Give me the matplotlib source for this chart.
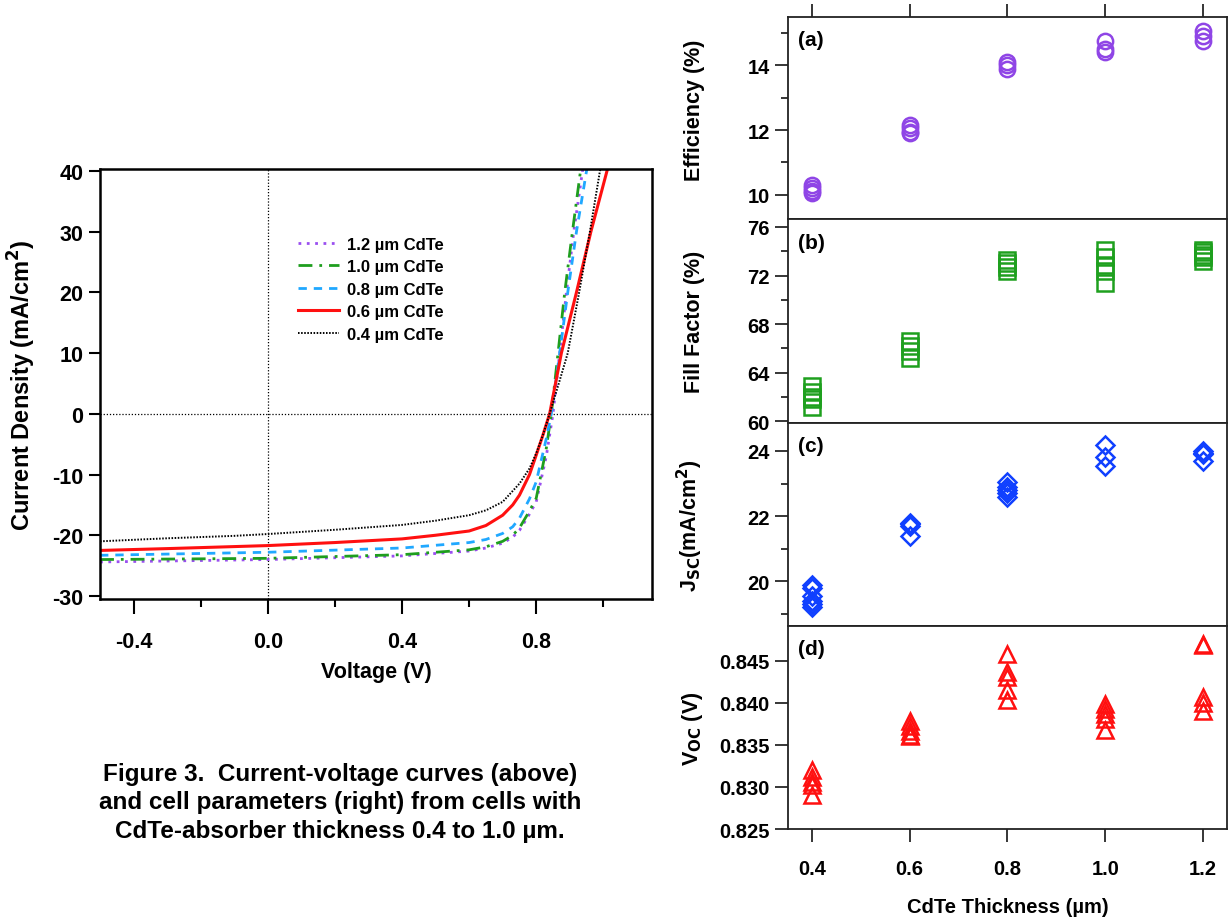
import matplotlib
matplotlib.use("Agg")
import matplotlib.pyplot as plt
from matplotlib.ticker import MultipleLocator, FormatStrFormatter

plt.rcParams['font.family'] = ['Liberation Sans', 'DejaVu Sans']
plt.rcParams['font.weight'] = 'bold'
plt.rcParams['axes.unicode_minus'] = False

# ---- J-V curves (left) ----
v_04 = [-0.5, -0.3, -0.1, 0.0, 0.2, 0.4, 0.5, 0.6, 0.65, 0.7, 0.75, 0.78, 0.8, 0.82, 0.84, 0.87, 0.894, 0.928, 0.96, 0.99, 1.0]
j_04 = [-21.0, -20.5, -20.1, -19.8, -19.1, -18.3, -17.6, -16.7, -15.9, -14.5, -11.5, -9.0, -6.5, -3.5, 0.0, 5.5, 10.0, 20.0, 30.0, 40.0, 43.0]

v_06 = [-0.5, -0.3, 0.0, 0.2, 0.4, 0.5, 0.6, 0.65, 0.7, 0.73, 0.75, 0.78, 0.8, 0.82, 0.84, 0.875, 0.92, 0.963, 1.011, 1.02]
j_06 = [-22.5, -22.2, -21.7, -21.2, -20.6, -20.0, -19.3, -18.4, -16.7, -15.0, -13.4, -10.0, -6.8, -3.5, 0.0, 10.0, 20.0, 30.0, 40.0, 42.0]

v_08 = [-0.5, 0.0, 0.4, 0.6, 0.65, 0.7, 0.73, 0.75, 0.78, 0.8, 0.83, 0.845, 0.87, 0.894, 0.92, 0.95, 0.96]
j_08 = [-23.3, -22.8, -22.1, -21.2, -20.7, -19.7, -18.6, -17.2, -14.0, -11.2, -4.1, 0.0, 10.0, 20.0, 30.0, 40.0, 43.0]

v_10 = [-0.5, 0.0, 0.4, 0.6, 0.65, 0.7, 0.73, 0.75, 0.78, 0.8, 0.83, 0.845, 0.865, 0.885, 0.908, 0.932, 0.94]
j_10 = [-24.0, -23.8, -23.2, -22.4, -21.9, -21.0, -20.0, -18.8, -16.0, -13.9, -5.7, 0.0, 10.0, 20.0, 30.0, 40.0, 43.0]

v_12 = [-0.5, 0.0, 0.4, 0.6, 0.65, 0.7, 0.73, 0.75, 0.78, 0.8, 0.83, 0.85, 0.87, 0.89, 0.912, 0.938, 0.945]
j_12 = [-24.4, -24.0, -23.4, -22.6, -22.1, -21.3, -20.3, -19.2, -16.5, -14.5, -7.0, 0.0, 10.0, 20.0, 30.0, 40.0, 43.0]

# ---- cell parameters (right) ----
thick_eff = [0.4] * 4 + [0.6] * 4 + [0.8] * 3 + [1.0] * 3 + [1.2] * 3
efficiency = [10.3, 10.2, 10.1, 10.05, 12.15, 12.05, 11.95, 11.9, 14.1, 14.0, 13.9, 14.77, 14.5, 14.43, 15.05, 14.9, 14.75]

thick_ff = [0.4] * 5 + [0.6] * 4 + [0.8] * 4 + [1.0] * 5 + [1.2] * 5
fill_factor = [62.9, 62.4, 62.0, 61.8, 61.2, 66.6, 66.2, 65.8, 65.2, 73.3, 73.0, 72.7, 72.4,
               74.1, 73.5, 72.9, 72.4, 71.4, 74.1, 73.9, 73.7, 73.5, 73.2]

thick_jsc = [0.4] * 6 + [0.6] * 4 + [0.8] * 5 + [1.0] * 3 + [1.2] * 4
jsc = [19.9, 19.8, 19.55, 19.4, 19.3, 19.2, 21.8, 21.75, 21.7, 21.4, 23.05, 22.9, 22.8, 22.7, 22.6,
       24.17, 23.8, 23.55, 24.0, 23.95, 23.9, 23.7]

thick_voc = [0.4] * 5 + [0.6] * 5 + [0.8] * 5 + [1.0] * 5 + [1.2] * 5
voc = [0.8320, 0.8312, 0.8306, 0.8302, 0.8290, 0.8378, 0.8372, 0.8366, 0.8362, 0.8360,
       0.8458, 0.8436, 0.8430, 0.8415, 0.8403, 0.8398, 0.8393, 0.8386, 0.8381, 0.8368,
       0.8470, 0.8468, 0.8407, 0.8400, 0.8390]

fig = plt.figure(figsize=(12.32, 9.2), dpi=100)

# left J-V plot
ax = fig.add_axes([0.0812, 0.3478, 0.448, 0.4674])
ax.axhline(0, color='black', lw=0.9, ls=(0, (1, 1.5)), zorder=1)
ax.axvline(0, color='black', lw=0.9, ls=(0, (1, 1.5)), zorder=1)
ax.plot(v_12, j_12, color='#9a4ff0', lw=2.0, ls=(0, (1, 2)), label='1.2 µm CdTe')
ax.plot(v_10, j_10, color='#1e9e1e', lw=2.0, ls=(0, (5, 2.5, 1, 2.5)), label='1.0 µm CdTe')
ax.plot(v_08, j_08, color='#20a8ff', lw=2.0, ls=(0, (3, 2.5)), label='0.8 µm CdTe')
ax.plot(v_06, j_06, color='#ff1010', lw=2.2, ls='-', label='0.6 µm CdTe')
ax.plot(v_04, j_04, color='black', lw=1.4, ls=(0, (0.8, 0.8)), label='0.4 µm CdTe')
ax.set_xlim(-0.5, 1.145)
ax.set_ylim(-30.5, 40.3)
ax.xaxis.set_major_locator(MultipleLocator(0.4))
ax.xaxis.set_minor_locator(MultipleLocator(0.2))
ax.xaxis.set_major_formatter(FormatStrFormatter('%.1f'))
ax.yaxis.set_major_locator(MultipleLocator(10))
ax.tick_params(axis='x', which='major', length=11, width=1.5, pad=12, labelsize=15.5)
ax.tick_params(axis='x', which='minor', length=6, width=1.5)
ax.tick_params(axis='y', length=8, width=1.5, pad=4, labelsize=15.5)
for s in ax.spines.values():
    s.set_linewidth(1.8)
ax.set_xlabel('Voltage (V)', fontsize=15.5, fontweight='bold')
ax.xaxis.set_label_coords(0.5, -0.144)
ax.xaxis.label.set_va('top')
ax.set_ylabel('Current Density (mA/cm$^\\mathbf{2}$)', fontsize=17, fontweight='bold')
ax.yaxis.set_label_coords(-0.112, 0.5)
ax.legend(loc='upper left', bbox_to_anchor=(0.343, 0.862), frameon=False, borderpad=0,
          handlelength=2.5, handletextpad=0.45, labelspacing=0.45,
          prop={'weight': 'bold', 'size': 12})

fig.text(340 / 1232, 1 - 803 / 920,
         'Figure 3.  Current-voltage curves (above)\nand cell parameters (right) from cells with\nCdTe-absorber thickness 0.4 to 1.0 µm.',
         ha='center', va='center', multialignment='center', fontsize=17.5, fontweight='bold', linespacing=1.3)

# right panels
x_left, width = 0.6396, 0.3563
panels = [
    (0.7609, 0.2196, thick_eff, efficiency, 'o', '#8f45e6', 'Efficiency (%)', (9.25, 15.5), 2, 1, '%d', '(a)'),
    (0.5391, 0.2217, thick_ff, fill_factor, 's', '#1ea01e', 'Fill Factor (%)', (59.85, 76.65), 4, 2, '%d', '(b)'),
    (0.3185, 0.2207, thick_jsc, jsc, 'D', '#1040ff', 'J$_{\\mathbf{SC}}$(mA/cm$^\\mathbf{2}$)', (18.63, 24.86), 2, 1, '%d', '(c)'),
    (0.0978, 0.2207, thick_voc, voc, '^', '#ff1010', 'V$_{\\mathbf{OC}}$ (V)', (0.825, 0.8491), 0.005, None, '%.3f', '(d)'),
]
axes = []
for i, (bot, h, xs, ys, mk, col, lab, ylim, maj, mnr, fmt, tag) in enumerate(panels):
    a = fig.add_axes([x_left, bot, width, h])
    ms = 11 if mk != 'D' else 9
    a.plot(xs, ys, ls='none', marker=mk, mfc='none', mec=col, ms=ms, mew=1.8)
    a.set_xlim(0.351, 1.249)
    a.set_ylim(*ylim)
    a.xaxis.set_major_locator(MultipleLocator(0.2))
    a.xaxis.set_major_formatter(FormatStrFormatter('%.1f'))
    a.yaxis.set_major_locator(MultipleLocator(maj))
    if mnr:
        a.yaxis.set_minor_locator(MultipleLocator(mnr))
    a.yaxis.set_major_formatter(FormatStrFormatter(fmt))
    a.tick_params(axis='y', which='major', length=9.5, width=1.1, pad=3.5, labelsize=14.5)
    a.tick_params(axis='y', which='minor', length=5, width=1.1)
    a.tick_params(axis='x', length=9.5, width=1.1, pad=12, labelsize=14.5)
    if i == 0:
        a.tick_params(axis='x', bottom=False, top=True, labelbottom=False, labeltop=False)
    elif i == 3:
        a.tick_params(axis='x', bottom=True, top=False, labelbottom=True)
    else:
        a.tick_params(axis='x', bottom=False, top=False, labelbottom=False)
    for s in a.spines.values():
        s.set_linewidth(1.3)
        s.set_color('#222222')
    a.set_ylabel(lab, fontsize=15.5, fontweight='bold')
    a.yaxis.set_label_coords(-0.19, 0.545 if i == 0 else 0.5)
    a.text(0.022, 0.887, tag, transform=a.transAxes, ha='left', va='center', fontsize=15, fontweight='bold')
    axes.append(a)

axes[3].set_xlabel('CdTe Thickness (µm)', fontsize=14.5, fontweight='bold')
axes[3].xaxis.set_label_coords(0.5, -0.335)
axes[3].xaxis.label.set_va('top')

fig.savefig('out.png', dpi=100)
